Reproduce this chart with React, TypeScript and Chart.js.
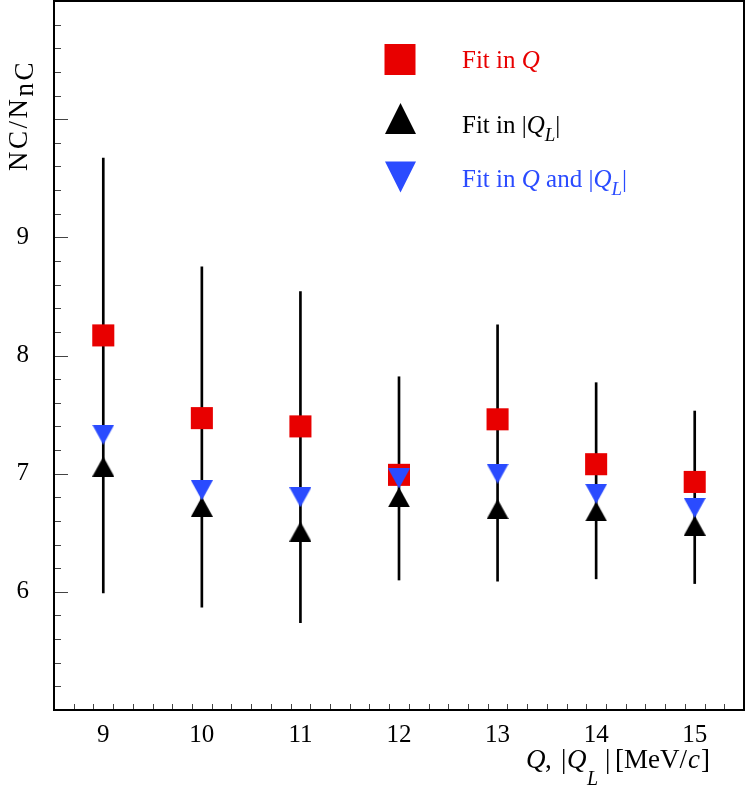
import React, { useEffect, useRef } from "react";
import { Chart, registerables } from "chart.js";

Chart.register(...registerables);

// Q or |Q_L| value (MeV/c)
const qValues = [9, 10, 11, 12, 13, 14, 15];
// N_C / N_nC for each fit
const fitQ = [8.17, 7.47, 7.4, 6.99, 7.46, 7.08, 6.93];
const fitQL = [7.06, 6.72, 6.51, 6.8, 6.7, 6.68, 6.56];
const fitBoth = [7.33, 6.86, 6.8, 6.96, 7.0, 6.83, 6.71];
// vertical error bar ends
const errLow = [5.99, 5.87, 5.74, 6.1, 6.09, 6.11, 6.07];
const errHigh = [9.67, 8.75, 8.54, 7.82, 8.26, 7.77, 7.53];
const yLabelTicks = [6, 7, 8, 9];

const RED = "#e80000";
const BLUE = "#2a4bff";
const SERIF = '"Liberation Serif", "DejaVu Serif", serif';

type Seg = { t: string; it?: boolean; size?: number; dy?: number; gap?: number; x?: number };

function drawRich(ctx: CanvasRenderingContext2D, segs: Seg[], x: number, y: number, base = 25) {
  let cx = x;
  for (const s of segs) {
    ctx.font = `${s.it ? "italic " : ""}${s.size ?? base}px ${SERIF}`;
    if (s.x !== undefined) cx = s.x;
    cx += s.gap ?? 0;
    ctx.fillText(s.t, cx, y + (s.dy ?? 0));
    cx += ctx.measureText(s.t).width;
  }
  return cx;
}

function triangle(w: number, h: number, color: string, up: boolean) {
  const c = document.createElement("canvas");
  c.width = w;
  c.height = h;
  const g = c.getContext("2d")!;
  g.fillStyle = color;
  g.beginPath();
  if (up) {
    g.moveTo(w / 2, 0);
    g.lineTo(w, h);
    g.lineTo(0, h);
  } else {
    g.moveTo(0, 0);
    g.lineTo(w, 0);
    g.lineTo(w / 2, h);
  }
  g.closePath();
  g.fill();
  return c;
}

const framePlugin = {
  id: "rootFrame",
  afterDraw(chart: any) {
    const { ctx, chartArea: a, scales } = chart;
    const x = scales.x;
    const y = scales.y;
    ctx.save();

    // tick marks, inside the frame
    ctx.strokeStyle = "#444";
    ctx.lineWidth = 1;
    ctx.beginPath();
    for (let i = 0; i <= 30; i++) {
      const v = 5 + i * 0.2;
      const py = Math.round(y.getPixelForValue(v)) + 0.5;
      const len = i % 5 === 0 ? 14 : 7;
      ctx.moveTo(a.left, py);
      ctx.lineTo(a.left + len, py);
    }
    for (let i = 1; i < 35; i++) {
      const v = 8.5 + i * 0.2;
      const px = Math.round(x.getPixelForValue(v)) + 0.5;
      const len = Math.abs(v - Math.round(v)) < 1e-6 ? 13 : 6;
      ctx.moveTo(px, a.bottom);
      ctx.lineTo(px, a.bottom - len);
    }
    ctx.stroke();

    ctx.strokeStyle = "#000";
    ctx.lineWidth = 2;
    ctx.strokeRect(a.left, a.top, a.right - a.left, a.bottom - a.top);

    ctx.textBaseline = "alphabetic";
    ctx.textAlign = "left";

    // legend
    ctx.fillStyle = RED;
    ctx.fillRect(384.5, 44, 31, 31);
    ctx.fillStyle = "#000";
    ctx.beginPath();
    ctx.moveTo(400.5, 103);
    ctx.lineTo(416, 134);
    ctx.lineTo(385, 134);
    ctx.closePath();
    ctx.fill();
    ctx.fillStyle = BLUE;
    ctx.beginPath();
    ctx.moveTo(385, 161.5);
    ctx.lineTo(416, 161.5);
    ctx.lineTo(400.5, 192.5);
    ctx.closePath();
    ctx.fill();

    ctx.fillStyle = RED;
    drawRich(ctx, [{ t: "Fit in " }, { t: "Q", it: true }], 462, 68);
    ctx.fillStyle = "#000";
    drawRich(
      ctx,
      [{ t: "Fit in |" }, { t: "Q", it: true }, { t: "L", it: true, size: 19, dy: 8 }, { t: "|" }],
      462,
      133
    );
    ctx.fillStyle = BLUE;
    drawRich(
      ctx,
      [
        { t: "Fit in " },
        { t: "Q", it: true },
        { t: " and |" },
        { t: "Q", it: true },
        { t: "L", it: true, size: 19, dy: 8 },
        { t: "|" },
      ],
      462,
      187
    );

    // axis titles
    ctx.fillStyle = "#000";
    drawRich(
      ctx,
      [
        { t: "Q", it: true, x: 526 },
        { t: ",", x: 545 },
        { t: "|", x: 561 },
        { t: "Q", it: true, x: 567 },
        { t: "L", it: true, size: 20, dy: 17, x: 587 },
        { t: "|", x: 605 },
        { t: "[MeV/", x: 615 },
        { t: "c", it: true, x: 688 },
        { t: "]", x: 701 },
      ],
      0,
      768,
      27
    );

    ctx.translate(27, 171);
    ctx.rotate(-Math.PI / 2);
    (ctx as any).letterSpacing = "2.5px";
    drawRich(ctx, [{ t: "NC/N" }, { t: "nC", dy: 6 }], 0, 0, 27);
    ctx.restore();
  },
};

export default function App() {
  const canvasRef = useRef<HTMLCanvasElement | null>(null);

  useEffect(() => {
    if (!canvasRef.current) return;
    const triUp = triangle(22, 20, "#000", true);
    const triDown = triangle(22, 20, BLUE, false);
    const font = { family: SERIF, size: 25 };

    const chart = new Chart(canvasRef.current, {
      type: "scatter",
      data: {
        datasets: [
          {
            type: "bar",
            label: "error",
            data: qValues.map((q, i) => ({ x: q, y: [errLow[i], errHigh[i]] })) as any,
            backgroundColor: "#000",
            borderWidth: 0,
            barThickness: 2,
            grouped: false,
            order: 3,
          } as any,
          {
            label: "Fit in Q",
            data: qValues.map((q, i) => ({ x: q, y: fitQ[i] })),
            pointStyle: "rect",
            pointRadius: 15.6,
            pointBackgroundColor: RED,
            pointBorderWidth: 0,
            order: 2,
          },
          {
            label: "Fit in |Q_L|",
            data: qValues.map((q, i) => ({ x: q, y: fitQL[i] })),
            pointStyle: triUp,
            pointRadius: 11,
            order: 1,
          },
          {
            label: "Fit in Q and |Q_L|",
            data: qValues.map((q, i) => ({ x: q, y: fitBoth[i] })),
            pointStyle: triDown,
            pointRadius: 11,
            order: 0,
          },
        ],
      },
      options: {
        animation: false,
        responsive: false,
        events: [],
        layout: { autoPadding: false, padding: { top: 1, right: 3, left: 0, bottom: 0 } },
        plugins: { legend: { display: false }, tooltip: { enabled: false } },
        scales: {
          x: {
            type: "linear",
            min: 8.5,
            max: 15.5,
            offset: false,
            grid: { display: false },
            border: { display: false },
            afterBuildTicks: (s: any) => {
              s.ticks = qValues.map((v) => ({ value: v }));
            },
            afterFit: (s: any) => {
              s.height = 87;
              s.paddingLeft = 0;
              s.paddingRight = 0;
            },
            ticks: {
              autoSkip: false,
              maxRotation: 0,
              font,
              color: "#000",
              padding: 2,
            },
          },
          y: {
            type: "linear",
            min: 5,
            max: 11,
            beginAtZero: false,
            grid: { display: false },
            border: { display: false },
            afterBuildTicks: (s: any) => {
              s.ticks = yLabelTicks.map((v) => ({ value: v }));
            },
            afterFit: (s: any) => {
              s.width = 54;
              s.paddingTop = 0;
              s.paddingBottom = 0;
            },
            ticks: {
              autoSkip: false,
              font,
              color: "#000",
              padding: 17,
            },
          },
        },
      },
      plugins: [framePlugin],
    });

    return () => chart.destroy();
  }, []);

  return (
    <div style={{ position: "absolute", left: 0, top: 0, width: 747, height: 797, background: "#fff" }}>
      <canvas ref={canvasRef} width={747} height={797} />
    </div>
  );
}
